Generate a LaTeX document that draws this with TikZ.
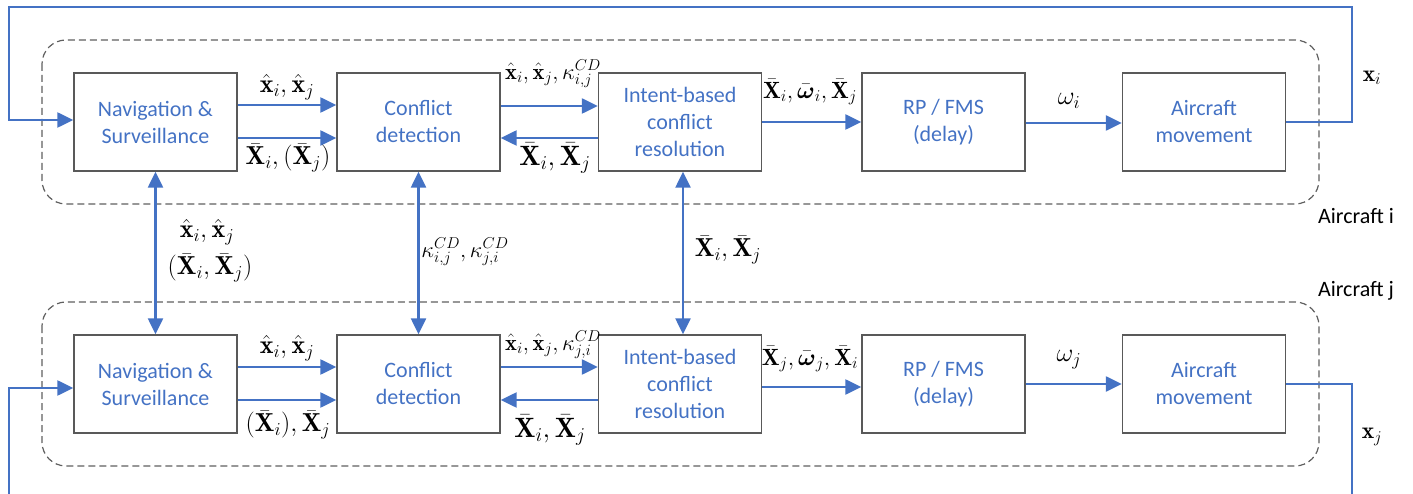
\RequirePackage{fix-cm}
\documentclass[tikz,border=0pt]{standalone}
\usepackage{amsmath}
\usepackage{fontspec}
\newfontfamily\boxfont{Carlito}
\usetikzlibrary{arrows.meta}

\definecolor{flow}{HTML}{4472C4}
\definecolor{frame}{HTML}{595959}
\definecolor{groupline}{HTML}{606060}

\newcommand{\xh}[1]{\hat{\mathbf{x}}_{#1}}
\newcommand{\Xb}[1]{\bar{\mathbf{X}}_{#1}}
\newcommand{\wb}[1]{\bar{\boldsymbol{\omega}}_{#1}}

\begin{document}
\begin{tikzpicture}[x=1pt,y=-1pt,
  block/.style={draw=frame, line width=1.4pt, minimum width=163pt, minimum height=98pt,
    inner sep=0pt, text=flow, align=center, font=\boxfont\fontsize{22}{27}\selectfont},
  link/.style={draw=flow, line width=2.4pt, -{Triangle[length=16pt,width=15pt]}},
  dlink/.style={draw=flow, line width=2.4pt, {Triangle[length=16pt,width=15pt]}-{Triangle[length=16pt,width=15pt]}},
  wire/.style={draw=flow, line width=2.4pt},
  group/.style={draw=groupline, line width=1.2pt, dash pattern=on 7pt off 4pt, rounded corners=24pt},
  lbl/.style={inner sep=0pt, font=\fontsize{26}{30}\selectfont},
  big/.style={font=\fontsize{28}{32}\selectfont},
  mid/.style={font=\fontsize{23.5}{28}\selectfont},
  small/.style={font=\fontsize{22.5}{26}\selectfont},
  tag/.style={inner sep=0pt, font=\boxfont\fontsize{22}{26}\selectfont}
]
\useasboundingbox (0,0) rectangle (1413,494);

% aircraft groups
\draw[group] (42,40) rectangle (1319,204);
\draw[group] (42,302) rectangle (1319,466);
\node[tag] (tagi) at (1356,216) {Aircraft i};
\node[tag] (tagj) at (1356,291) {Aircraft j};

% aircraft i chain
\node[block] (nav1) at (155.5,122) {Navigation \&\\Surveillance};
\node[block] (cd1)  at (418.5,122) {Conflict\\detection};
\node[block] (ir1)  at (680,122)   {Intent-based\\conflict\\resolution};
\node[block] (rp1)  at (943.5,122) {RP / FMS\\(delay)};
\node[block] (am1)  at (1204,122)  {Aircraft\\movement};

% aircraft j chain
\node[block] (nav2) at (155.5,384) {Navigation \&\\Surveillance};
\node[block] (cd2)  at (418.5,384) {Conflict\\detection};
\node[block] (ir2)  at (680,384)   {Intent-based\\conflict\\resolution};
\node[block] (rp2)  at (943.5,384) {RP / FMS\\(delay)};
\node[block] (am2)  at (1204,384)  {Aircraft\\movement};

% flows inside aircraft i
\draw[link] ([yshift=17pt]nav1.east) -- ([yshift=17pt]cd1.west);
\draw[link] ([yshift=-16pt]nav1.east) -- ([yshift=-16pt]cd1.west);
\draw[link] ([yshift=16pt]cd1.east) -- ([yshift=16pt]ir1.west);
\draw[link] ([yshift=-16pt]ir1.west) -- ([yshift=-16pt]cd1.east);
\draw[link] (ir1.east) -- (rp1.west);
\draw[link] ([yshift=-1pt]rp1.east) -- ([yshift=-1pt]am1.west);

% flows inside aircraft j
\draw[link] ([yshift=17pt]nav2.east) -- ([yshift=17pt]cd2.west);
\draw[link] ([yshift=-16pt]nav2.east) -- ([yshift=-16pt]cd2.west);
\draw[link] ([yshift=17pt]cd2.east) -- ([yshift=17pt]ir2.west);
\draw[link] ([yshift=-16pt]ir2.west) -- ([yshift=-16pt]cd2.east);
\draw[link] ([yshift=-3pt]ir2.east) -- ([yshift=-3pt]rp2.west);
\draw[link] (rp2.east) -- (am2.west);

% exchanges between the aircraft
\draw[dlink] (nav1.south) -- (nav2.north);
\draw[dlink] (cd1.south) -- (cd2.north);
\draw[dlink] ([xshift=3pt]ir1.south) -- ([xshift=3pt]ir2.north);

% state feedback loops
\coordinate (ti) at (1352,7);
\coordinate (tl) at (9,7);
\draw[link] (am1.east) -| (ti) -- (tl) |- ([yshift=2pt]nav1.west);
\coordinate (bj) at (1352,494);
\coordinate (bl) at (9,494);
\draw[wire] (am2.east) -| (bj);
\draw[link] (bl) |- ([yshift=-4pt]nav2.west);

% labels, aircraft i
\node[lbl] (a1) at (287,87)  {$\xh{i},\xh{j}$};
\node[lbl] (a2) at (288,158) {$\Xb{i},(\Xb{j})$};
\node[lbl,small] (a3) at (553,74)  {$\xh{i},\xh{j},\kappa^{CD}_{i,j}$};
\node[lbl,big] (a4) at (555,158) {$\Xb{i},\Xb{j}$};
\node[lbl,mid] (a5) at (810,92)  {$\Xb{i},\wb{i},\Xb{j}$};
\node[lbl] (a6) at (1069,101) {$\omega_i$};
\node[lbl,mid] (a7) at (1372,78) {$\mathbf{x}_i$};

% labels between the aircraft
\node[lbl] (m1) at (207,232) {$\xh{i},\xh{j}$};
\node[lbl] (m2) at (210,268) {$(\Xb{i},\Xb{j})$};
\node[lbl,small] (m3) at (465,252) {$\kappa^{CD}_{i,j},\kappa^{CD}_{j,i}$};
\node[lbl] (m4) at (728,250) {$\Xb{i},\Xb{j}$};

% labels, aircraft j
\node[lbl] (b1) at (287,348) {$\xh{i},\xh{j}$};
\node[lbl] (b2) at (288,425) {$(\Xb{i}),\Xb{j}$};
\node[lbl,small] (b3) at (553,345) {$\xh{i},\xh{j},\kappa^{CD}_{j,i}$};
\node[lbl,big] (b4) at (550,430) {$\Xb{i},\Xb{j}$};
\node[lbl,mid] (b5) at (810,359) {$\Xb{j},\wb{j},\Xb{i}$};
\node[lbl] (b6) at (1069,360) {$\omega_j$};
\node[lbl,mid] (b7) at (1372,437) {$\mathbf{x}_j$};
\end{tikzpicture}
\end{document}
